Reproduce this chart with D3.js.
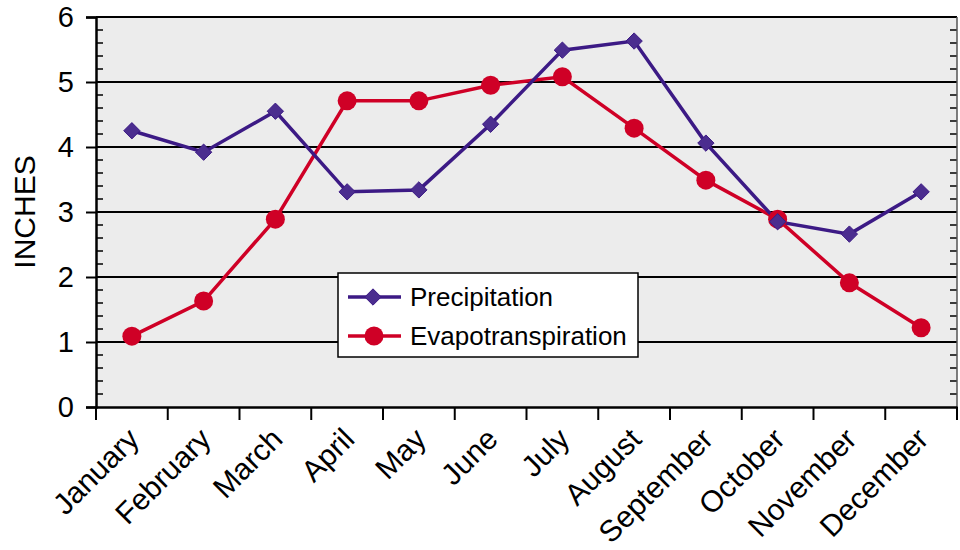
<!DOCTYPE html>
<html>
<head>
<meta charset="utf-8">
<script src="https://cdn.jsdelivr.net/npm/d3@7"></script>
<style>
  body { margin: 0; background: #fff; }
  text { font-family: "Liberation Sans", Arial, sans-serif; fill: #000; }
</style>
</head>
<body>
<div class="chart"></div>
<script>
// Chart data
const months = ["January", "February", "March", "April", "May", "June",
  "July", "August", "September", "October", "November", "December"];
const precipitation = [4.25, 3.92, 4.55, 3.31, 3.34, 4.35, 5.49, 5.63, 4.06, 2.85, 2.66, 3.31];
const evapotranspiration = [1.09, 1.63, 2.89, 4.71, 4.71, 4.95, 5.08, 4.29, 3.49, 2.89, 1.91, 1.22];
const yTicks = [0, 1, 2, 3, 4, 5, 6];

const W = 960, H = 550;
const margin = { top: 17, right: 3, bottom: 143, left: 96 };
const width = W - margin.left - margin.right;
const height = H - margin.top - margin.bottom;

const svg = d3.select(".chart").append("svg")
  .attr("width", W).attr("height", H);
const g = svg.append("g").attr("transform", `translate(${margin.left},${margin.top})`);

const x = d3.scaleBand().domain(months).range([0, width]);
const y = d3.scaleLinear().domain([0, 6]).range([height, 0]);
const cx = d => x(d) + x.bandwidth() / 2;

// plot background
g.append("rect").attr("width", width).attr("height", height).attr("fill", "#ececec");

// gridlines
g.selectAll(".grid").data(yTicks.slice(1, -1)).join("line")
  .attr("x1", 0).attr("x2", width)
  .attr("y1", d => y(d)).attr("y2", d => y(d))
  .attr("stroke", "#000").attr("stroke-width", 2);

// minor ticks (inside, left and right)
const minor = d3.range(0, 6.01, 0.2).filter(v => Math.abs(v - Math.round(v)) > 0.01);
g.selectAll(".minorL").data(minor).join("line")
  .attr("x1", 0).attr("x2", 7)
  .attr("y1", d => y(d)).attr("y2", d => y(d))
  .attr("stroke", "#000").attr("stroke-width", 1.5);
g.selectAll(".minorR").data(minor).join("line")
  .attr("x1", width - 7).attr("x2", width)
  .attr("y1", d => y(d)).attr("y2", d => y(d))
  .attr("stroke", "#000").attr("stroke-width", 1.5);

// frame: top and right
g.append("line").attr("x1", 0).attr("x2", width).attr("y1", 0).attr("y2", 0)
  .attr("stroke", "#000").attr("stroke-width", 2);
g.append("line").attr("x1", width).attr("x2", width).attr("y1", 0).attr("y2", height)
  .attr("stroke", "#555").attr("stroke-width", 1.5);

// y axis
const yAxis = g.append("g")
  .call(d3.axisLeft(y).tickValues(yTicks).tickSize(10).tickPadding(12).tickFormat(d3.format("d")));
yAxis.select(".domain").attr("stroke", "#000").attr("stroke-width", 2.5);
yAxis.selectAll(".tick line").attr("stroke-width", 2);
yAxis.selectAll(".tick text").style("font-size", "29px");

// x axis
const xAxis = g.append("g").attr("transform", `translate(0,${height})`)
  .call(d3.axisBottom(x).tickSize(0).tickFormat(""));
xAxis.select(".domain").attr("stroke", "#000").attr("stroke-width", 2.5);
g.append("g").selectAll("line").data(months.concat(["end"])).join("line")
  .attr("x1", (d, i) => i * x.step()).attr("x2", (d, i) => i * x.step())
  .attr("y1", height).attr("y2", height + 13)
  .attr("stroke", "#000").attr("stroke-width", 2);
g.append("g").selectAll("text").data(months).join("text")
  .attr("transform", d => `translate(${cx(d) + 9},${height + 34}) rotate(-45)`)
  .attr("text-anchor", "end")
  .style("font-size", "30px")
  .text(d => d);

// y label
svg.append("text")
  .attr("transform", `translate(35,${margin.top + height / 2}) rotate(-90)`)
  .attr("text-anchor", "middle")
  .style("font-size", "30px")
  .text("INCHES");

// series
const purple = "#3c1a85", purpleFill = "#4b2d8f", red = "#cf0026";
const line = d3.line().x((d, i) => cx(months[i])).y(d => y(d));

g.append("path").datum(evapotranspiration)
  .attr("fill", "none").attr("stroke", red).attr("stroke-width", 3.5).attr("d", line);
g.append("path").datum(precipitation)
  .attr("fill", "none").attr("stroke", purple).attr("stroke-width", 3.5).attr("d", line);

const diamond = d3.symbol().type(d3.symbolDiamond2).size(170);

g.selectAll(".evap").data(evapotranspiration).join("circle")
  .attr("cx", (d, i) => cx(months[i])).attr("cy", d => y(d))
  .attr("r", 9.5).attr("fill", red);
g.selectAll(".prec").data(precipitation).join("path")
  .attr("d", diamond)
  .attr("transform", (d, i) => `translate(${cx(months[i])},${y(d)})`)
  .attr("fill", purpleFill).attr("stroke", purple).attr("stroke-width", 1);

// legend
const lg = svg.append("g").attr("transform", "translate(338,273)");
lg.append("rect").attr("width", 300).attr("height", 84)
  .attr("fill", "#fff").attr("stroke", "#000").attr("stroke-width", 1.5);
const legendItems = [
  { name: "Precipitation", color: purple, fill: purpleFill, shape: "diamond" },
  { name: "Evapotranspiration", color: red, fill: red, shape: "circle" }
];
legendItems.forEach((it, i) => {
  const yy = 24 + i * 39;
  lg.append("line").attr("x1", 10).attr("x2", 63).attr("y1", yy).attr("y2", yy)
    .attr("stroke", it.color).attr("stroke-width", 3.5);
  if (it.shape === "diamond") {
    lg.append("path").attr("d", diamond).attr("transform", `translate(35,${yy})`)
      .attr("fill", it.fill).attr("stroke", it.color);
  } else {
    lg.append("circle").attr("cx", 36).attr("cy", yy).attr("r", 9.5).attr("fill", it.fill);
  }
  lg.append("text").attr("x", 72).attr("y", yy).attr("dy", "0.36em")
    .style("font-size", "26px").text(it.name);
});
</script>
</body>
</html>
